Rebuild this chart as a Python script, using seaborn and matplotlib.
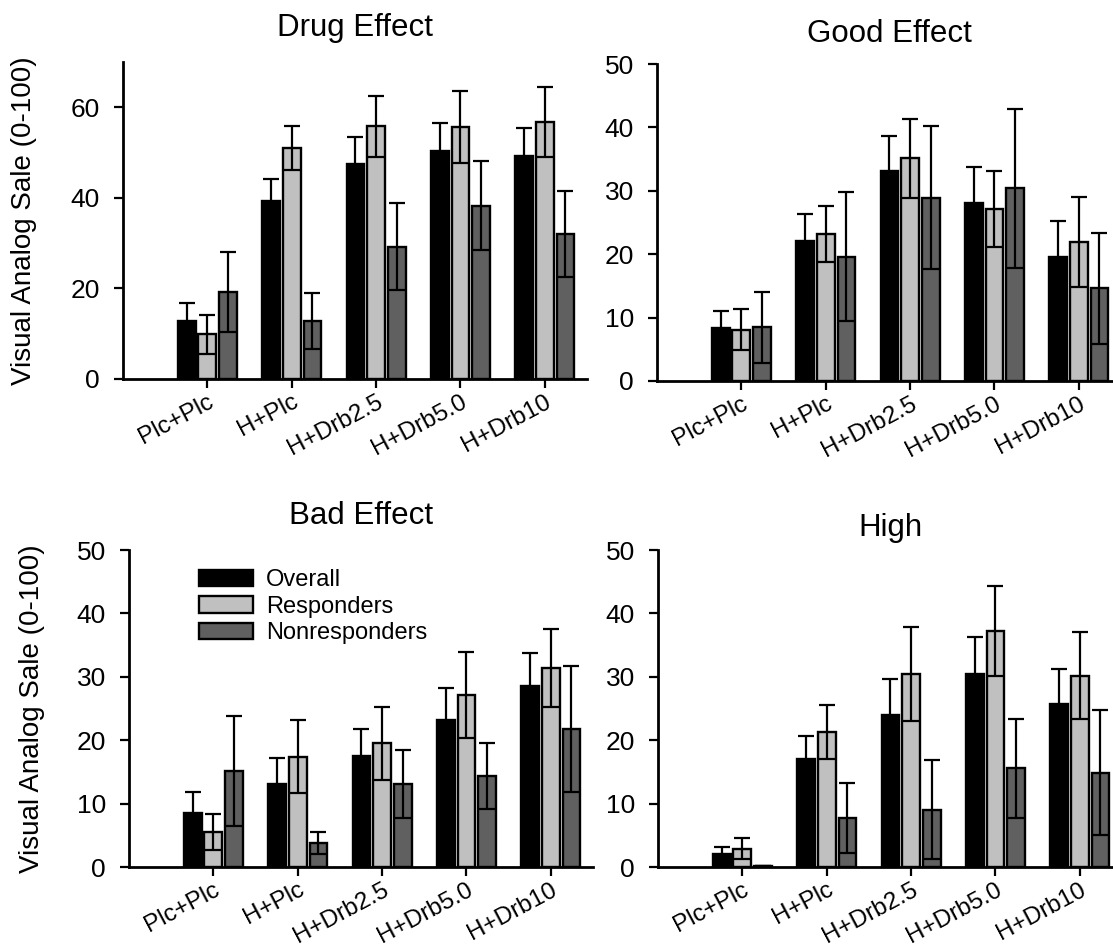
import matplotlib
matplotlib.use("Agg")
import matplotlib.pyplot as plt
import seaborn as sns
import pandas as pd
import numpy as np

conditions = ["Plc+Plc", "H+Plc", "H+Drb2.5", "H+Drb5.0", "H+Drb10"]
groups = ["Overall", "Responders", "Nonresponders"]
colors = ["#000000", "#c0c0c0", "#606060"]

# Drug Effect
drug_overall = [12.8, 39.2, 47.5, 50.4, 49.2]
drug_overall_err = [3.9, 4.9, 6.0, 6.1, 6.2]
drug_resp = [9.9, 51.0, 55.8, 55.6, 56.8]
drug_resp_err = [4.3, 4.9, 6.8, 8.0, 7.7]
drug_nonresp = [19.2, 12.8, 29.2, 38.3, 32.0]
drug_nonresp_err = [8.9, 6.1, 9.6, 9.9, 9.5]

# Good Effect
good_overall = [8.3, 22.1, 33.2, 28.1, 19.6]
good_overall_err = [2.7, 4.3, 5.4, 5.6, 5.6]
good_resp = [8.1, 23.2, 35.1, 27.1, 22.0]
good_resp_err = [3.2, 4.4, 6.2, 6.0, 7.1]
good_nonresp = [8.5, 19.6, 28.9, 30.4, 14.6]
good_nonresp_err = [5.6, 10.2, 11.3, 12.5, 8.7]

# Bad Effect
bad_overall = [8.5, 13.1, 17.5, 23.2, 28.5]
bad_overall_err = [3.4, 4.1, 4.3, 5.1, 5.2]
bad_resp = [5.5, 17.4, 19.5, 27.1, 31.4]
bad_resp_err = [2.8, 5.8, 5.8, 6.8, 6.1]
bad_nonresp = [15.1, 3.8, 13.1, 14.4, 21.8]
bad_nonresp_err = [8.7, 1.7, 5.3, 5.2, 9.9]

# High
high_overall = [2.0, 17.0, 23.9, 30.5, 25.7]
high_overall_err = [1.2, 3.6, 5.8, 5.8, 5.6]
high_resp = [2.9, 21.3, 30.5, 37.2, 30.2]
high_resp_err = [1.6, 4.3, 7.4, 7.1, 6.8]
high_nonresp = [0.2, 7.7, 9.0, 15.6, 14.9]
high_nonresp_err = [0.0, 5.5, 7.8, 7.8, 9.8]

panels = [
    dict(title="Drug Effect", vals=[drug_overall, drug_resp, drug_nonresp],
         errs=[drug_overall_err, drug_resp_err, drug_nonresp_err],
         ymax=70, yticks=[0, 20, 40, 60], pos=(123, 62), tpad=19, ylabel=True, lx=-0.186),
    dict(title="Good Effect", vals=[good_overall, good_resp, good_nonresp],
         errs=[good_overall_err, good_resp_err, good_nonresp_err],
         ymax=50, yticks=[0, 10, 20, 30, 40, 50], pos=(657, 64), tpad=16, ylabel=False),
    dict(title="Bad Effect", vals=[bad_overall, bad_resp, bad_nonresp],
         errs=[bad_overall_err, bad_resp_err, bad_nonresp_err],
         ymax=50, yticks=[0, 10, 20, 30, 40, 50], pos=(129, 550), tpad=19, ylabel=True, lx=-0.180),
    dict(title="High", vals=[high_overall, high_resp, high_nonresp],
         errs=[high_overall_err, high_resp_err, high_nonresp_err],
         ymax=50, yticks=[0, 10, 20, 30, 40, 50], pos=(658, 550), tpad=10, ylabel=False),
]

sns.set_style("ticks", {"text.color": "black", "axes.labelcolor": "black",
                        "xtick.color": "black", "ytick.color": "black",
                        "axes.edgecolor": "black"})
plt.rcParams["font.family"] = ["Liberation Sans", "DejaVu Sans"]

W, H = 1113, 946
fig = plt.figure(figsize=(W / 100, H / 100), dpi=100)
AXW, AXH = 464, 317

for i, p in enumerate(panels):
    left, top = p["pos"]
    ax = fig.add_axes([left / W, 1 - (top + AXH) / H, AXW / W, AXH / H])
    rows = []
    for g, v, e in zip(groups, p["vals"], p["errs"]):
        for c, vv, ee in zip(conditions, v, e):
            rows.append(dict(condition=c, group=g, value=vv, err=ee))
    df = pd.DataFrame(rows)
    sns.barplot(data=df, x="condition", y="value", hue="group", order=conditions,
                hue_order=groups, palette=colors, edgecolor="black", linewidth=1.7,
                errorbar=None, width=0.735, gap=0.14, ax=ax, legend=(i == 2),
                saturation=1)
    for cont, e in zip(ax.containers, p["errs"]):
        xs = [b.get_x() + b.get_width() / 2 for b in cont]
        hs = [b.get_height() for b in cont]
        ax.errorbar(xs, hs, yerr=e, fmt="none", ecolor="black", elinewidth=1.6,
                    capsize=5.8, capthick=1.6, zorder=5)
    ax.set_xlim(-1, 4.5)
    ax.set_ylim(0, p["ymax"])
    ax.set_yticks(p["yticks"])
    sns.despine(ax=ax)
    for s in ["left", "bottom"]:
        ax.spines[s].set_linewidth(2)
    ax.tick_params(axis="both", direction="out", length=6.5, width=1.6, labelsize=19, pad=10)
    ax.tick_params(axis="x", labelsize=17.5, pad=2)
    for lab in ax.get_xticklabels():
        lab.set_rotation(28)
        lab.set_ha("right")
        lab.set_rotation_mode("anchor")
        lab.set_va("top")
    ax.set_xlabel("")
    if p["ylabel"]:
        ax.set_ylabel("Visual Analog Sale (0-100)", fontsize=20)
        ax.yaxis.set_label_coords(p["lx"], 0.5)
    else:
        ax.set_ylabel("")
    ax.set_title(p["title"], fontsize=22.5, pad=p["tpad"])
    if i == 2:
        sns.move_legend(ax, loc="upper left", bbox_to_anchor=(0.151, 0.94), frameon=False,
                        title=None, fontsize=17, handlelength=2.3, handleheight=0.68,
                        handletextpad=0.55, labelspacing=0.2, borderpad=0, borderaxespad=0)

fig.savefig("out.png", dpi=100)
